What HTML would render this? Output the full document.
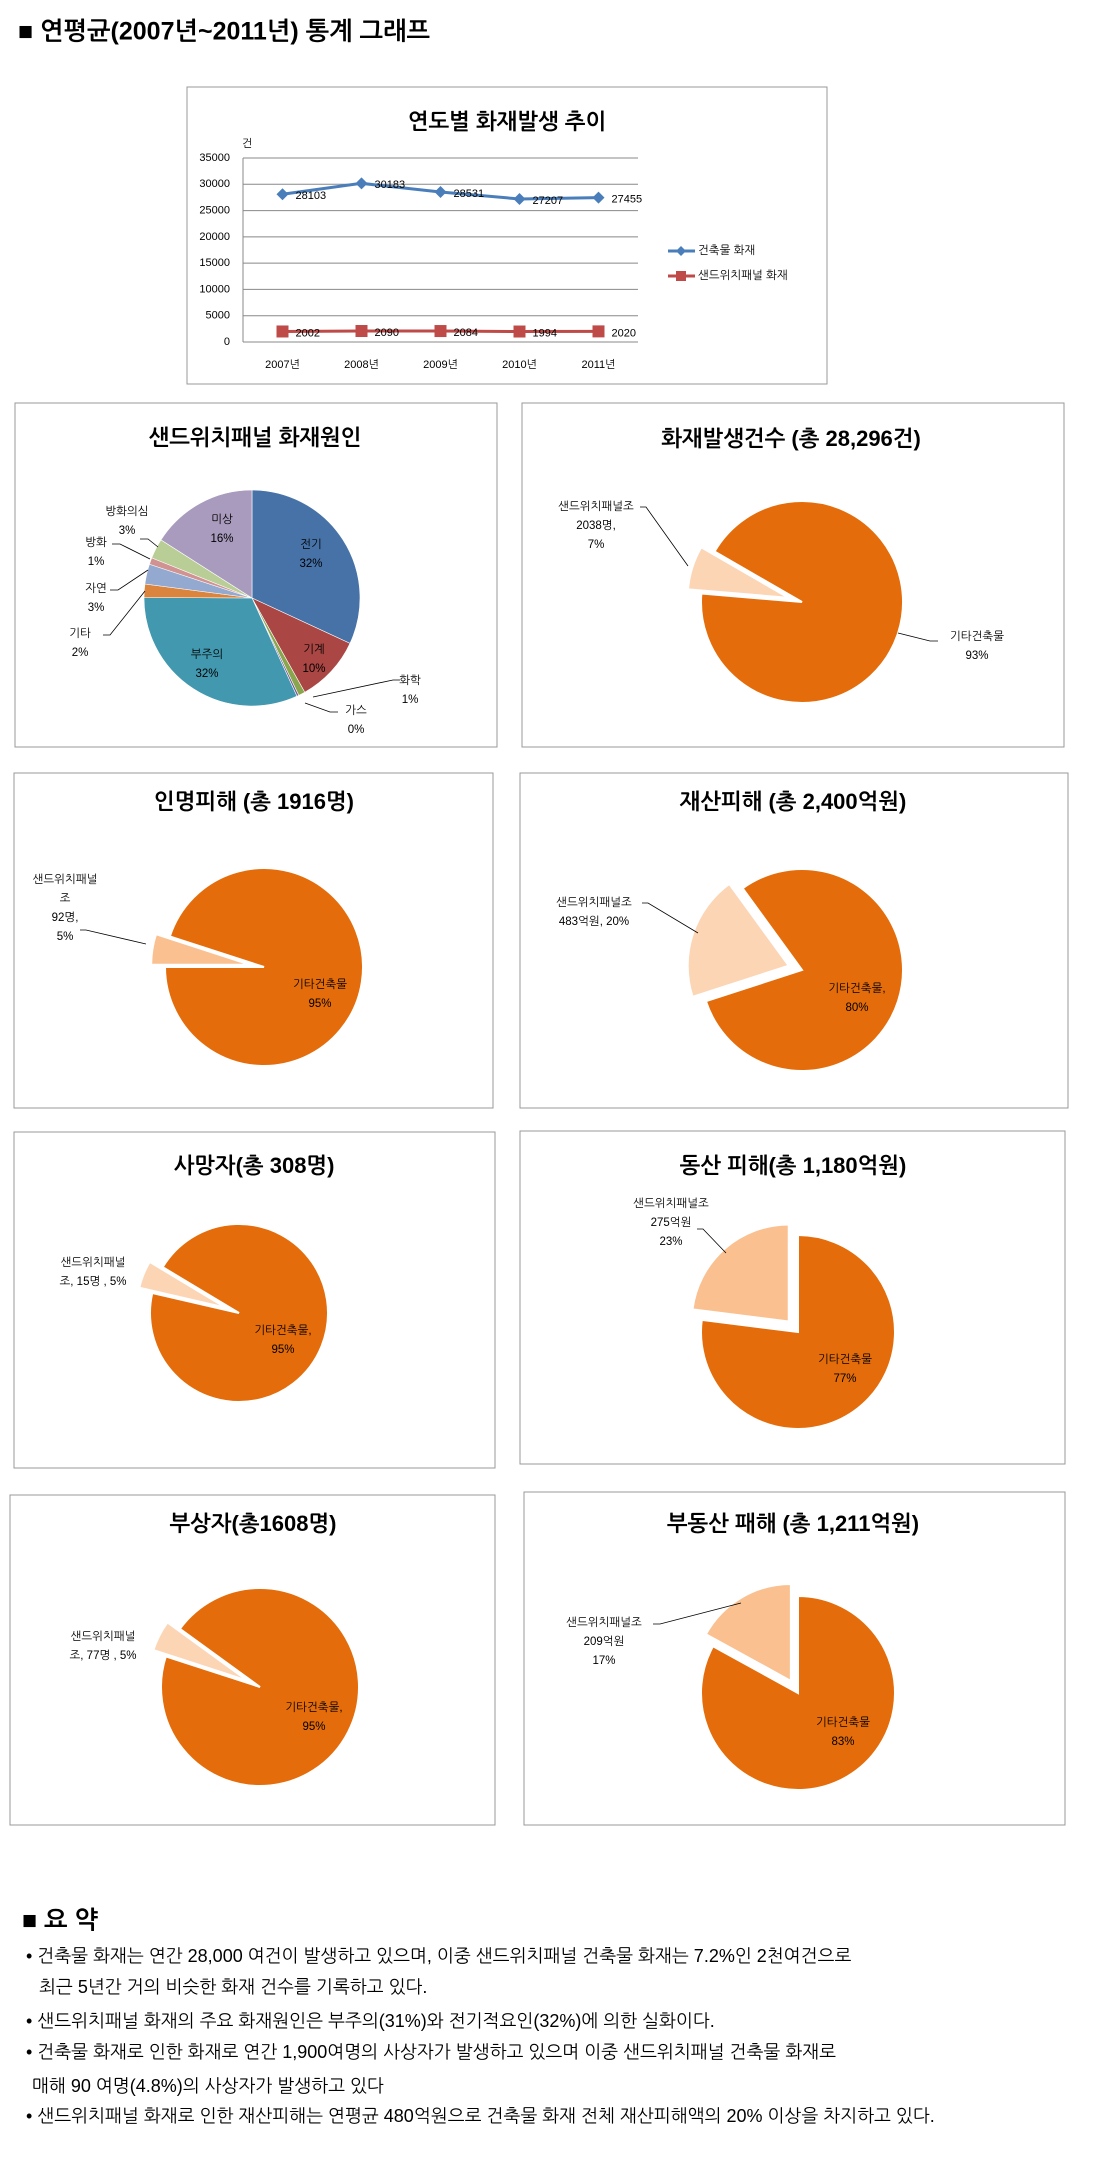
<!DOCTYPE html>
<html><head><meta charset="utf-8">
<style>
html,body{margin:0;padding:0;background:#fff;}
svg{display:block;font-family:"Liberation Sans","NanumGothic","Noto Sans CJK KR",sans-serif;}
.t{font-weight:bold;font-size:22px;text-anchor:middle;dominant-baseline:middle;fill:#000;}
.l{font-size:11.5px;fill:#000;text-anchor:middle;dominant-baseline:middle;}
.s{font-size:18px;fill:#000;dominant-baseline:middle;}
</style></head>
<body>
<svg id="root" width="1101" height="2161" viewBox="0 0 1101 2161">
<text x="18" y="33" font-size="25" font-weight="bold" dominant-baseline="middle">■ 연평균(2007년~2011년) 통계 그래프</text>

<rect x="187" y="87" width="640" height="297" fill="#fff" stroke="#999"/>
<text class="t" x="507" y="123">연도별 화재발생 추이</text>
<g id="linechart"></g>

<rect x="15" y="403" width="482" height="344" fill="#fff" stroke="#999"/>
<text class="t" x="255" y="439">샌드위치패널 화재원인</text>
<g id="pie1"></g>

<rect x="522" y="403" width="542" height="344" fill="#fff" stroke="#999"/>
<text class="t" x="791" y="440">화재발생건수 (총 28,296건)</text>
<g id="pie2"></g>

<rect x="14" y="773" width="479" height="335" fill="#fff" stroke="#999"/>
<text class="t" x="254" y="803">인명피해 (총 1916명)</text>
<g id="pie3"></g>

<rect x="520" y="773" width="548" height="335" fill="#fff" stroke="#999"/>
<text class="t" x="793" y="803">재산피해 (총 2,400억원)</text>
<g id="pie4"></g>

<rect x="14" y="1132" width="481" height="336" fill="#fff" stroke="#999"/>
<text class="t" x="254" y="1167">사망자(총 308명)</text>
<g id="pie5"></g>

<rect x="520" y="1131" width="545" height="333" fill="#fff" stroke="#999"/>
<text class="t" x="793" y="1167">동산 피해(총 1,180억원)</text>
<g id="pie6"></g>

<rect x="10" y="1495" width="485" height="330" fill="#fff" stroke="#999"/>
<text class="t" x="253" y="1525">부상자(총1608명)</text>
<g id="pie7"></g>

<rect x="524" y="1492" width="541" height="333" fill="#fff" stroke="#999"/>
<text class="t" x="793" y="1525">부동산 패해 (총 1,211억원)</text>
<g id="pie8"></g>

<g>
<text x="22" y="1922" font-size="25" font-weight="bold" dominant-baseline="middle">■ 요 약</text>
<text class="s" x="26" y="1957">• 건축물 화재는 연간 28,000 여건이 발생하고 있으며, 이중 샌드위치패널 건축물 화재는 7.2%인  2천여건으로</text>
<text class="s" x="39" y="1988">최근 5년간 거의 비슷한 화재 건수를 기록하고 있다.</text>
<text class="s" x="26" y="2022">• 샌드위치패널 화재의 주요 화재원인은 부주의(31%)와 전기적요인(32%)에 의한 실화이다.</text>
<text class="s" x="26" y="2053">• 건축물 화재로 인한 화재로 연간 1,900여명의 사상자가 발생하고 있으며 이중 샌드위치패널 건축물 화재로</text>
<text class="s" x="32" y="2087">매해 90 여명(4.8%)의 사상자가 발생하고 있다</text>
<text class="s" x="26" y="2117">• 샌드위치패널 화재로 인한 재산피해는 연평균 480억원으로 건축물 화재 전체 재산피해액의  20% 이상을 차지하고 있다.</text>
</g>
</svg>
<script>
// ---- line chart data ----
const years = ["2007년","2008년","2009년","2010년","2011년"];
const buildingFires = [28103,30183,28531,27207,27455];
const panelFires = [2002,2090,2084,1994,2020];
const yTicks = [0,5000,10000,15000,20000,25000,30000,35000];
const seriesNames = ["건축물 화재","샌드위치패널 화재"];

// ---- pie data ----
const causeLabels = ["전기","기계","화학","가스","부주의","기타","자연","방화","방화의심","미상"];
const causeValues = [32,10,1,0.3,32,2,3,1,3,16];
const causePct = ["32%","10%","1%","0%","32%","2%","3%","1%","3%","16%"];
const countValues = [93,7];
const casualtyValues = [95,5];
const propertyValues = [80,20];
const deathValues = [95,5];
const movableValues = [77,23];
const injuryValues = [95,5];
const realEstateValues = [83,17];

const NS="http://www.w3.org/2000/svg";
function mk(tag,attrs,parent){const e=document.createElementNS(NS,tag);for(const k in attrs)e.setAttribute(k,attrs[k]);parent.appendChild(e);return e;}

// line chart
(function(){
  const g=document.getElementById('linechart');
  const x0=243,x1=638,yTop=158,yBot=342,ymax=35000;
  const ys=v=>yBot-(v/ymax)*(yBot-yTop);
  const bw=(x1-x0)/years.length;
  const xs=i=>x0+bw*(i+0.5);
  yTicks.forEach(t=>{
    const ln=mk('line',{x1:x0,x2:x1,y1:ys(t),y2:ys(t),stroke:'#888','stroke-width':1},g);
    
    
    const tx=mk('text',{x:x0-13,y:ys(t),'font-size':11,'text-anchor':'end','dominant-baseline':'middle'},g);
    tx.textContent=t;
    
    
  });
  const ax=mk('line',{x1:x0,x2:x0,y1:yTop,y2:yBot,stroke:'#888'},g);
  
  
  const un=mk('text',{x:x0+4,y:144,'font-size':11,'text-anchor':'middle','dominant-baseline':'middle'},g);
  un.textContent='건';
  
  
  years.forEach((yv,i)=>{
    const t=mk('text',{x:xs(i),y:365,'font-size':11,'text-anchor':'middle','dominant-baseline':'middle'},g);
    t.textContent=yv;
    
    
  });
  function series(vals,color,marker,name){
    const pts=vals.map((v,i)=>xs(i)+','+ys(v)).join(' ');
    const pl=mk('polyline',{points:pts,fill:'none',stroke:color,'stroke-width':3},g);
    
    
    vals.forEach((v,i)=>{
      const cx=xs(i),cy=ys(v);let m;
      if(marker==='d')m=mk('polygon',{points:`${cx},${cy-6} ${cx+6},${cy} ${cx},${cy+6} ${cx-6},${cy}`,fill:color},g);
      else m=mk('rect',{x:cx-6,y:cy-6,width:12,height:12,fill:color},g);
      
      
      const t=mk('text',{x:cx+13,y:cy+2,'font-size':11,'dominant-baseline':'middle'},g);
      t.textContent=v;
      
      
    });
  }
  series(buildingFires,'#4A7EBB','d','building-fire');
  series(panelFires,'#BE4B48','s','panel-fire');
  [['#4A7EBB','d',251],['#BE4B48','s',276]].forEach((c,i)=>{
    const lg=mk('g',{},g);
    
    
    mk('line',{x1:668,x2:695,y1:c[2],y2:c[2],stroke:c[0],'stroke-width':3},lg);
    if(c[1]==='d')mk('polygon',{points:`681,${c[2]-5} 686,${c[2]} 681,${c[2]+5} 676,${c[2]}`,fill:c[0]},lg);
    else mk('rect',{x:676,y:c[2]-5,width:10,height:10,fill:c[0]},lg);
    const t=mk('text',{x:698,y:c[2],'font-size':11.5,'dominant-baseline':'middle'},lg);
    t.textContent=seriesNames[i];
  });
})();

function rad(d){return (d-90)*Math.PI/180;}
function arcPath(cx,cy,r,a0,a1){
  const p0=[cx+r*Math.cos(rad(a0)),cy+r*Math.sin(rad(a0))];
  const p1=[cx+r*Math.cos(rad(a1)),cy+r*Math.sin(rad(a1))];
  const large=(a1-a0)>180?1:0;
  return `M${cx},${cy} L${p0[0]},${p0[1]} A${r},${r} 0 ${large} 1 ${p1[0]},${p1[1]} Z`;
}
function drawPie(id,cx,cy,r,vals,colors,start,explode,names){
  const g=document.getElementById(id);
  const tot=vals.reduce((a,b)=>a+b,0);let a=start;
  vals.forEach((v,i)=>{
    const span=v/tot*360;let ox=0,oy=0;
    if(explode&&explode[i]){const m=rad(a+span/2);ox=explode[i]*Math.cos(m);oy=explode[i]*Math.sin(m);}
    const p=mk('path',{d:arcPath(cx+ox,cy+oy,r,a,a+span),fill:colors[i],stroke:'#fff','stroke-width':explode?2:0.6},g);
    
    
    a+=span;
  });
  return g;
}
function label(g,x,y,lines,name){
  const t=mk('text',{class:'l',x:x,y:y},g);
  
  
  lines.forEach((s,i)=>{const ts=mk('tspan',{x:x,dy:i?19:0},t);ts.textContent=s;});
}
function leader(g,pts){const p=mk('polyline',{points:pts,fill:'none',stroke:'#000','stroke-width':0.8},g);}

// pie 1
(function(){
  const cols=['#4672A8','#AA4643','#89A54E','#71588F','#4198AF','#DB843D','#93A9CF','#D19392','#B9CD96','#A99BBD'];
  const g=drawPie('pie1',252,598,108,causeValues,cols,0,null,causeLabels.map(s=>'slice-'+s));
  const pos=[[311,545],[314,650],[410,681],[356,711],[207,655],[80,634],[96,589],[96,543],[127,512],[222,520]];
  causeLabels.forEach((s,i)=>label(g,pos[i][0],pos[i][1],[s,causePct[i]],'label-'+s));
  leader(g,'313,697 393,680 400,680');leader(g,'305,703 330,712 338,712');
  leader(g,'103,635 110,635 145,591');leader(g,'110,590 118,590 148,570');
  leader(g,'112,544 120,544 150,559');leader(g,'140,539 148,539 158,547');
})();
const OR='#E46C0A',LT='#FCD5B5',MD='#FAC090';
function simple(id,cx,cy,r,vals,lc,start,ex){return drawPie(id,cx,cy,r,vals,[OR,lc],start,[0,ex],['slice-other-buildings','slice-sandwich-panel']);}
let g;
g=simple('pie2',802,602,101,countValues,LT,300,14);
label(g,596,507,['샌드위치패널조','2038명,','7%'],'label-sandwich');label(g,977,637,['기타건축물','93%'],'label-other');
leader(g,'640,507 646,507 688,566');leader(g,'898,633 930,641 938,641');
g=simple('pie3',264,967,99,casualtyValues,MD,288,14);
label(g,65,880,['샌드위치패널','조','92명,','5%'],'label-sandwich');label(g,320,985,['기타건축물','95%'],'label-other');
leader(g,'80,930 86,930 146,944');
g=simple('pie4',802,970,101,propertyValues,LT,324,14);
label(g,594,903,['샌드위치패널조','483억원, 20%'],'label-sandwich');label(g,857,989,['기타건축물,','80%'],'label-other');
leader(g,'642,903 648,903 698,933');
g=simple('pie5',239,1313,89,deathValues,LT,301,14);
label(g,93,1263,['샌드위치패널','조, 15명 , 5%'],'label-sandwich');label(g,283,1331,['기타건축물,','95%'],'label-other');
g=simple('pie6',798,1332,97,movableValues,MD,0,14);
label(g,671,1204,['샌드위치패널조','275억원','23%'],'label-sandwich');label(g,845,1360,['기타건축물','77%'],'label-other');
leader(g,'697,1229 703,1229 726,1253');
g=simple('pie7',260,1687,99,injuryValues,LT,306,14);
label(g,103,1637,['샌드위치패널','조, 77명 , 5%'],'label-sandwich');label(g,314,1708,['기타건축물,','95%'],'label-other');
g=simple('pie8',798,1693,97,realEstateValues,MD,0,14);
label(g,604,1623,['샌드위치패널조','209억원','17%'],'label-sandwich');label(g,843,1723,['기타건축물','83%'],'label-other');
leader(g,'653,1624 660,1624 741,1603');
</script>
</body></html>
